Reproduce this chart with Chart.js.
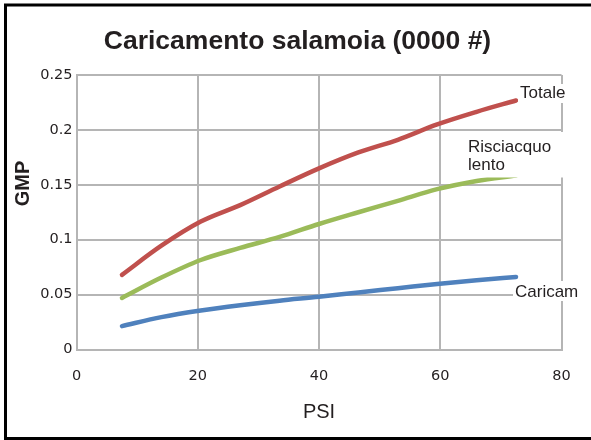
<!DOCTYPE html>
<html>
<head>
<meta charset="utf-8">
<script src="https://cdn.jsdelivr.net/npm/chart.js@4/dist/chart.umd.min.js"></script>
<style>
  html, body { margin: 0; padding: 0; background: #fff; }
  #wrap { width: 591px; height: 440px; position: relative; }
</style>
</head>
<body>
<div id="wrap"><canvas id="c" width="591" height="440"></canvas></div>
<script>
// Brine loading curves: GMP against pressure (PSI)
const chartTitle = 'Caricamento salamoia (0000 #)';
const xAxisTitle = 'PSI';
const yAxisTitle = 'GMP';
const seriesNames = ['Totale', 'Risciacquo lento', 'Caricam'];

const psi        = [7.5, 14, 20.5, 27, 33.5, 40, 46.5, 53, 59.5, 66, 72.5];
const totale     = [0.068, 0.0945, 0.1165, 0.1315, 0.1485, 0.165, 0.1795, 0.191, 0.205, 0.2165, 0.2268];
const risciacquo = [0.047, 0.0655, 0.0815, 0.0925, 0.1025, 0.1143, 0.125, 0.1354, 0.146, 0.1535, 0.1585];
const caricam    = [0.0213, 0.0295, 0.0355, 0.0403, 0.0445, 0.048, 0.052, 0.0558, 0.0597, 0.063, 0.066];

const xTicks = [0, 20, 40, 60, 80];
const yTicks = [0, 0.05, 0.1, 0.15, 0.2, 0.25];
const yTickLabels = ['0', '0.05', '0.1', '0.15', '0.2', '0.25'];

const seriesColors = ['#c0504d', '#9bbb59', '#4f81bd'];
const textColor = '#231f20';
const gridColor = '#b5b5b5';

const toPoints = vals => vals.map((v, i) => ({ x: psi[i], y: v }));

// Inline series labels placed beside the line ends, each on a white box
const seriesLabels = [
  { lines: ['Totale'], x: 520, y: 98, box: [518, 84, 52, 19] },
  { lines: ['Risciacquo', 'lento'], x: 468, y: 151.5, box: [466, 132, 100, 45.5] },
  { lines: ['Caricam'], x: 515, y: 296.7, box: [513, 281, 68, 20] }
];

const decorations = {
  id: 'decorations',
  beforeDraw(chart) {
    const ctx = chart.ctx;
    ctx.save();
    ctx.fillStyle = '#ffffff';
    ctx.fillRect(0, 0, chart.width, chart.height);
    ctx.restore();
  },
  afterDraw(chart) {
    const ctx = chart.ctx;
    ctx.save();

    // series labels
    ctx.font = '17px "Liberation Sans", Arial, sans-serif';
    ctx.textAlign = 'left';
    ctx.textBaseline = 'alphabetic';
    seriesLabels.forEach(l => {
      ctx.fillStyle = '#ffffff';
      ctx.fillRect(l.box[0], l.box[1], l.box[2], l.box[3]);
      ctx.fillStyle = textColor;
      l.lines.forEach((t, i) => ctx.fillText(t, l.x, l.y + i * 18.5));
    });

    // chart title
    ctx.fillStyle = textColor;
    ctx.font = 'bold 26.5px "Liberation Sans", Arial, sans-serif';
    ctx.textAlign = 'center';
    ctx.fillText(chartTitle, 297.5, 48.5);

    // vertical axis title
    ctx.save();
    ctx.translate(23.5, 183.5);
    ctx.rotate(-Math.PI / 2);
    ctx.font = 'bold 20px "Liberation Sans", Arial, sans-serif';
    ctx.textBaseline = 'middle';
    ctx.fillText(yAxisTitle, 0, 0);
    ctx.restore();

    // outer frame
    ctx.strokeStyle = '#000000';
    ctx.lineWidth = 3;
    ctx.beginPath();
    ctx.moveTo(5.5, 440);
    ctx.lineTo(5.5, 5);
    ctx.lineTo(591, 5);
    ctx.moveTo(4, 438.5);
    ctx.lineTo(591, 438.5);
    ctx.stroke();

    ctx.restore();
  }
};

const lineDataset = (label, values, color) => ({
  label,
  data: toPoints(values),
  borderColor: color,
  backgroundColor: color,
  borderWidth: 4.5,
  borderCapStyle: 'round',
  borderJoinStyle: 'round',
  pointRadius: 0,
  cubicInterpolationMode: 'monotone',
  fill: false
});

new Chart(document.getElementById('c'), {
  type: 'line',
  data: {
    datasets: [
      lineDataset(seriesNames[0], totale, seriesColors[0]),
      lineDataset(seriesNames[1], risciacquo, seriesColors[1]),
      lineDataset(seriesNames[2], caricam, seriesColors[2])
    ]
  },
  options: {
    responsive: false,
    animation: false,
    devicePixelRatio: 1,
    layout: { padding: { top: 75, right: 29.5, left: 0, bottom: 0 } },
    plugins: {
      legend: { display: false },
      tooltip: { enabled: false },
      title: { display: false }
    },
    scales: {
      x: {
        type: 'linear',
        min: 0,
        max: 80,
        afterBuildTicks: s => { s.ticks = xTicks.map(v => ({ value: v })); },
        afterFit: s => { s.height = 90.5; },
        grid: { color: gridColor, lineWidth: 2, drawTicks: false },
        border: { display: true, color: gridColor, width: 2 },
        ticks: {
          padding: 18,
          color: textColor,
          font: { family: '"DejaVu Sans", sans-serif', size: 14.5 },
          callback: v => String(v)
        },
        title: {
          display: true,
          text: xAxisTitle,
          color: textColor,
          font: { family: '"Liberation Sans", Arial, sans-serif', size: 20 },
          padding: { top: 0, bottom: 16 }
        }
      },
      y: {
        type: 'linear',
        min: 0,
        max: 0.25,
        afterBuildTicks: s => { s.ticks = yTicks.map(v => ({ value: v })); },
        afterFit: s => { s.width = 76.5; },
        grid: { color: gridColor, lineWidth: 2, drawTicks: false },
        border: { display: true, color: gridColor, width: 2 },
        ticks: {
          padding: 4,
          color: textColor,
          font: { family: '"DejaVu Sans", sans-serif', size: 14.5 },
          callback: (v, i) => yTickLabels[i]
        }
      }
    }
  },
  plugins: [decorations]
});
</script>
</body>
</html>
